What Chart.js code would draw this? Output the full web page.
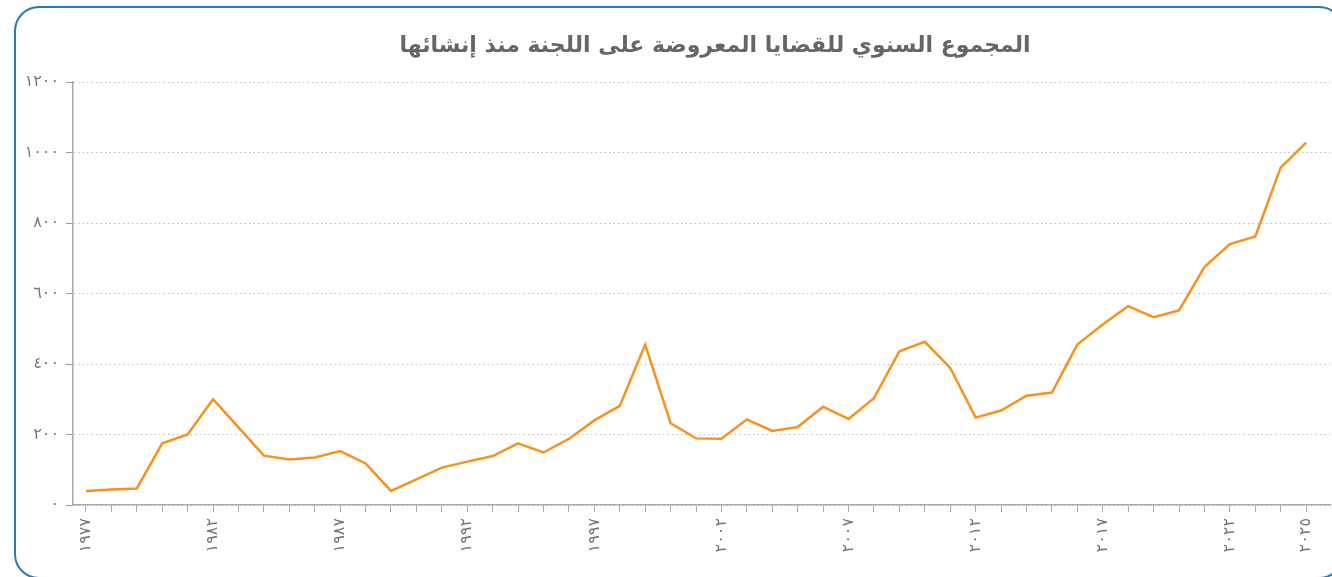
<!DOCTYPE html>
<html lang="ar">
<head>
<meta charset="utf-8">
<script src="https://cdn.jsdelivr.net/npm/chart.js@4"></script>
<style>
  html, body { margin: 0; padding: 0; background: #fff; overflow: hidden; }
  #wrap { position: relative; width: 1332px; height: 577px; overflow: hidden; }
  #frame { position: absolute; left: 14px; top: 6px; width: 1330px; height: 573px;
           border: 2px solid #2a7ab9; border-radius: 25px; box-sizing: border-box; }
  #c { position: absolute; left: 0; top: 0; }
</style>
</head>
<body>
<div id="wrap">
  <div id="frame"></div>
  <canvas id="c" width="1430" height="577"></canvas>
</div>
<script>
const titleText = 'المجموع السنوي للقضايا المعروضة على اللجنة منذ إنشائها';
const years = [1977,1978,1979,1980,1981,1982,1983,1984,1985,1986,1987,1988,1989,1990,1991,1992,1993,1994,1995,1996,1997,1998,1999,2000,2001,2002,2003,2004,2005,2006,2007,2008,2009,2010,2011,2012,2013,2014,2015,2016,2017,2018,2019,2020,2021,2022,2023,2024,2025];
const cases = [40,44,47,175,200,300,220,140,129,135,153,118,40,73,106,123,139,175,149,188,240,281,455,232,189,188,243,210,221,279,244,303,436,463,389,248,268,310,319,455,512,564,533,552,675,740,762,957,1028];
const xLabelYears = [1977,1982,1987,1992,1997,2002,2007,2012,2017,2022,2025];
const xLabelTexts = ['١٩٧٧','١٩٨٢','١٩٨٧','١٩٩٢','١٩٩٧','٢٠٠٢','٢٠٠٧','٢٠١٢','٢٠١٧','٢٠٢٢','٢٠٢٥'];
const yTickValues = [0,200,400,600,800,1000,1200];
const yTickTexts = ['٠','٢٠٠','٤٠٠','٦٠٠','٨٠٠','١٠٠٠','١٢٠٠'];

const points = years.map((y, i) => ({ x: y, y: cases[i] }));
const FONT = "'DejaVu Sans', sans-serif";

new Chart(document.getElementById('c'), {
  type: 'line',
  data: {
    datasets: [{
      data: points,
      borderColor: '#f7921e',
      borderWidth: 2.5,
      pointRadius: 0,
      tension: 0,
      fill: false
    }]
  },
  options: {
    responsive: false,
    animation: false,
    layout: { padding: { left: 0, right: 0, top: 0, bottom: 0 } },
    plugins: {
      legend: { display: false },
      tooltip: { enabled: false },
      title: {
        display: true,
        text: titleText,
        color: '#666',
        font: { family: FONT, size: 22, weight: 'bold', lineHeight: 1.2 },
        padding: { top: 33, bottom: 22.6 }
      }
    },
    scales: {
      x: {
        type: 'linear',
        min: 1976.49,
        max: 2025.94,
        afterBuildTicks: (s) => { s.ticks = years.map(v => ({ value: v })); },
        afterFit: (s) => { s.height = 72; },
        ticks: {
          autoSkip: false,
          minRotation: 90,
          maxRotation: 90,
          color: '#777',
          font: { family: FONT, size: 16 },
          padding: 6,
          callback: (v) => { const i = xLabelYears.indexOf(v); return i >= 0 ? xLabelTexts[i] : ''; }
        },
        grid: { drawOnChartArea: false, drawTicks: true, tickLength: 7, color: '#aaa', tickColor: '#aaa' },
        border: { color: '#aaa', width: 1.5 }
      },
      y: {
        min: 0,
        max: 1200,
        afterBuildTicks: (s) => { s.ticks = yTickValues.map(v => ({ value: v })); },
        afterFit: (s) => { s.width = 73; },
        ticks: {
          color: '#777',
          font: { family: FONT, size: 16 },
          padding: 7,
          callback: (v) => { const i = yTickValues.indexOf(v); return i >= 0 ? yTickTexts[i] : ''; }
        },
        grid: { color: '#bbb', tickLength: 7, tickColor: '#999', tickBorderDash: [] },
        border: { color: '#aaa', width: 1.5, dash: [1.5, 3] }
      },
      spacer: {
        type: 'linear',
        position: 'right',
        display: true,
        afterFit: (s) => { s.width = 100; },
        ticks: { display: false },
        grid: { display: false },
        border: { display: false }
      }
    }
  }
});
</script>
</body>
</html>
